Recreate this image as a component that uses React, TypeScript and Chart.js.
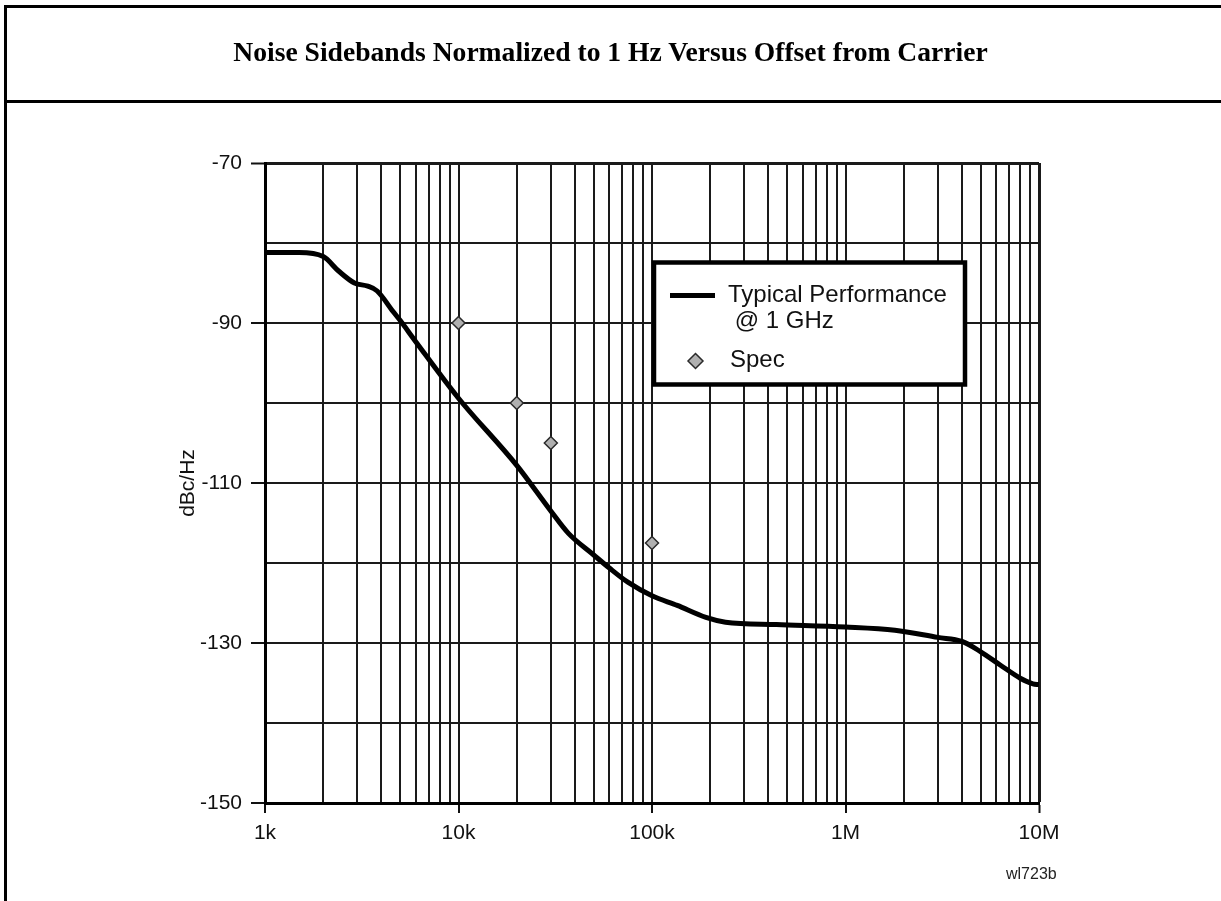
import React, { useEffect, useRef } from 'react';
import { Chart, registerables } from 'chart.js';

Chart.register(...registerables);

// ---- data ----
const curveFreq = [
  1000, 1500, 2000, 2400, 2900, 3400, 3800, 4600, 5000, 6000, 10000, 20000, 30000, 37000,
  50000, 60000, 75000, 100000, 135000, 190000, 240000, 440000, 1000000, 1800000, 3000000,
  4000000, 5000000, 6300000, 8000000, 9300000, 10000000,
];
const curveDb = [
  -81.2, -81.2, -81.7, -83.5, -85.0, -85.4, -86.0, -88.6, -89.7, -92.3, -99.4, -107.8, -113.5,
  -116.3, -119.0, -120.6, -122.4, -124.1, -125.3, -126.8, -127.4, -127.7, -128.0, -128.4,
  -129.3, -129.8, -131.1, -132.75, -134.4, -135.1, -135.2,
];
const specFreq = [10000, 20000, 30000, 100000];
const specDb = [-90, -100, -105, -117.5];

const seriesLabels: (string | string[])[] = [['Typical Performance', ' @ 1 GHz'], 'Spec'];

const xTickValues = [1e3, 1e4, 1e5, 1e6, 1e7];
const xTickLabels = ['1k', '10k', '100k', '1M', '10M'];
const xMinorMultipliers = [1, 2, 3, 4, 5, 6, 7, 8, 9];
const yMin = -150;
const yMax = -70;
const yStep = 10;
const yLabelValues = [-70, -90, -110, -130, -150];

const titleText = 'Noise Sidebands Normalized to 1 Hz Versus Offset from Carrier';
const figureCode = 'wl723b';
const yAxisTitle = 'dBc/Hz';

const SANS = '"Liberation Sans", Arial, sans-serif';

const boxLegend = {
  id: 'boxLegend',
  afterDraw(chart: any) {
    const o = chart.options.plugins.boxLegend;
    const ctx = chart.ctx as CanvasRenderingContext2D;
    const ds = chart.data.datasets;
    ctx.save();
    ctx.fillStyle = '#ffffff';
    ctx.fillRect(o.left, o.top, o.width, o.height);
    ctx.lineWidth = o.borderWidth;
    ctx.strokeStyle = '#000000';
    ctx.strokeRect(o.left, o.top, o.width, o.height);

    ctx.font = `${o.fontSize}px ${SANS}`;
    ctx.fillStyle = '#111111';
    ctx.textBaseline = 'alphabetic';
    ctx.textAlign = 'left';

    // line entry
    const line = ds[0];
    ctx.beginPath();
    ctx.lineWidth = line.borderWidth;
    ctx.strokeStyle = line.borderColor;
    ctx.moveTo(o.left + 16, o.top + 33);
    ctx.lineTo(o.left + 61, o.top + 33);
    ctx.stroke();
    const lines = Array.isArray(line.label) ? line.label : [line.label];
    lines.forEach((t: string, i: number) => {
      ctx.fillText(t, o.left + 74, o.top + 39.5 + i * 26);
    });

    // point entry
    const pt = ds[1];
    const cx = o.left + 41.5;
    const cy = o.top + 98.5;
    const r = 7.5;
    ctx.beginPath();
    ctx.moveTo(cx, cy - r);
    ctx.lineTo(cx + r, cy);
    ctx.lineTo(cx, cy + r);
    ctx.lineTo(cx - r, cy);
    ctx.closePath();
    ctx.fillStyle = pt.backgroundColor;
    ctx.fill();
    ctx.lineWidth = pt.borderWidth;
    ctx.strokeStyle = pt.borderColor;
    ctx.stroke();
    ctx.fillStyle = '#111111';
    ctx.fillText(pt.label, o.left + 76, o.top + 104.5);
    ctx.restore();
  },
};

function ChartCanvas() {
  const ref = useRef<HTMLCanvasElement | null>(null);
  useEffect(() => {
    if (!ref.current) return;
    const gridTicks: number[] = [];
    xTickValues.forEach((d, i) => {
      if (i === xTickValues.length - 1) gridTicks.push(d);
      else xMinorMultipliers.forEach((m) => gridTicks.push(d * m));
    });
    const isMajorX = (v: number) => xTickValues.some((d) => Math.abs(d - v) < 1e-6 * d);
    const isLabelY = (v: number) => yLabelValues.includes(Math.round(v));

    const chart = new Chart(ref.current, {
      type: 'line',
      data: {
        datasets: [
          {
            label: seriesLabels[0] as any,
            data: curveFreq.map((f, i) => ({ x: f, y: curveDb[i] })),
            borderColor: '#000000',
            borderWidth: 5,
            pointRadius: 0,
            fill: false,
            cubicInterpolationMode: 'monotone',
            borderCapStyle: 'butt',
          },
          {
            label: seriesLabels[1] as any,
            data: specFreq.map((f, i) => ({ x: f, y: specDb[i] })),
            showLine: false,
            pointStyle: 'rectRot',
            pointRadius: 6.5,
            backgroundColor: '#b0b0b0',
            borderColor: '#2a2a2a',
            borderWidth: 1.5,
          },
        ],
      },
      options: {
        animation: false,
        responsive: false,
        devicePixelRatio: 1,
        layout: { padding: { left: 176, right: 182, top: 163, bottom: 38 } },
        plugins: {
          legend: { display: false },
          tooltip: { enabled: false },
          boxLegend: { left: 654, top: 262.5, width: 311, height: 122, borderWidth: 4.5, fontSize: 24 },
        } as any,
        scales: {
          x: {
            type: 'logarithmic',
            min: 1e3,
            max: 1e7,
            afterBuildTicks: (scale: any) => {
              scale.ticks = gridTicks.map((v) => ({ value: v, major: isMajorX(v) }));
            },
            afterFit: (scale: any) => {
              scale.height = 60;
            },
            ticks: {
              autoSkip: false,
              maxRotation: 0,
              minRotation: 0,
              padding: 8,
              color: '#111111',
              font: { family: SANS, size: 21 },
              callback: (value: any) => {
                const i = xTickValues.findIndex((d) => Math.abs(d - Number(value)) < 1e-6 * d);
                return i >= 0 ? xTickLabels[i] : '';
              },
            },
            grid: {
              color: '#1a1a1a',
              lineWidth: (c: any) => (c.tick && c.tick.value === 1e7 ? 3 : 2),
              tickLength: 10,
              tickWidth: 2,
              tickColor: (c: any) => (c.tick && isMajorX(c.tick.value) ? '#111111' : 'rgba(0,0,0,0)'),
            },
            border: { display: true, color: '#000000', width: 3 },
          },
          y: {
            type: 'linear',
            min: yMin,
            max: yMax,
            afterFit: (scale: any) => {
              scale.width = 89;
            },
            ticks: {
              stepSize: yStep,
              padding: 9,
              color: '#111111',
              font: { family: SANS, size: 21 },
              callback: (value: any) => (isLabelY(Number(value)) ? String(value) : ''),
            },
            grid: {
              color: '#1a1a1a',
              lineWidth: (c: any) => (c.tick && c.tick.value === yMax ? 3 : 2),
              tickLength: 14,
              tickWidth: 2,
              tickColor: (c: any) => (c.tick && isLabelY(c.tick.value) ? '#111111' : 'rgba(0,0,0,0)'),
            },
            border: { display: true, color: '#000000', width: 3 },
            title: {
              display: true,
              text: yAxisTitle,
              color: '#111111',
              font: { family: SANS, size: 21 },
              padding: 0,
            },
          },
        },
      },
      plugins: [boxLegend],
    } as any);
    return () => chart.destroy();
  }, []);
  return (
    <canvas
      ref={ref}
      width={1221}
      height={901}
      style={{ position: 'absolute', left: 0, top: 0, width: 1221, height: 901 }}
    />
  );
}

export default function App() {
  return (
    <div
      style={{
        position: 'absolute',
        left: 0,
        top: 0,
        width: 1221,
        height: 901,
        overflow: 'hidden',
        background: '#ffffff',
      }}
    >
      <ChartCanvas />
      <div
        style={{
          position: 'absolute',
          left: 4,
          top: 5,
          width: 1400,
          height: 1100,
          border: '3px solid #000',
          boxSizing: 'border-box',
          pointerEvents: 'none',
        }}
      />
      <div
        style={{
          position: 'absolute',
          left: 4,
          top: 100,
          width: 1400,
          height: 3,
          background: '#000',
        }}
      />
      <div
        style={{
          position: 'absolute',
          left: 0,
          top: 6,
          width: 1221,
          height: 92,
          display: 'flex',
          alignItems: 'center',
          justifyContent: 'center',
          fontFamily: '"Liberation Serif", "Times New Roman", serif',
          fontWeight: 'bold',
          fontSize: 27.6,
          color: '#000',
          whiteSpace: 'nowrap',
        }}
      >
        {titleText}
      </div>
      <div
        style={{
          position: 'absolute',
          left: 1006,
          top: 865,
          fontFamily: SANS,
          fontSize: 16,
          color: '#222',
          whiteSpace: 'nowrap',
        }}
      >
        {figureCode}
      </div>
    </div>
  );
}
